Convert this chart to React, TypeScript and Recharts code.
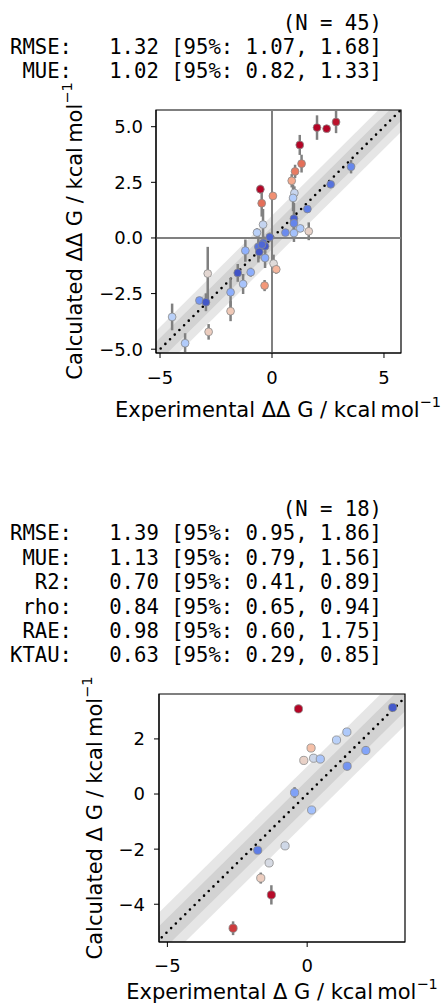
import React from "react";
import {
  ComposedChart,
  Scatter,
  Area,
  Line,
  XAxis,
  YAxis,
  ReferenceLine,
  ReferenceArea,
  ErrorBar,
  Label,
} from "recharts";

// --- ΔΔG (relative, per edge) ---
const ddgExp = [
  2.01, 2.44, 2.86, 1.24, 1.32, 1.03, 0.88, 1.0, 0.94, -0.52, -0.46, 0.04, 1.58,
  0.98, 0.98, -0.4, -0.67, 0.6, 0.98, 1.26, 1.64, -0.1, -0.61, -0.57, -0.39,
  -0.31, -0.31, -1.19, 0.07, 0.19, -0.33, -1.53, -0.95, -1.29, -2.87, -1.85,
  -1.85, -3.24, -2.95, -2.83, -4.46, -3.88, 3.53, 2.62, -0.45,
];
const ddgCalc = [
  4.96, 4.91, 5.21, 4.18, 3.34, 2.99, 2.57, 2.02, 1.8, 2.19, 1.56, 1.89, 1.3,
  0.87, 0.66, 0.6, 0.24, 0.24, 0.22, 0.43, 0.3, 0.04, -0.4, -0.63, -0.22, -0.37,
  -0.9, -0.57, -1.15, -1.41, -2.14, -1.57, -1.54, -2.07, -1.6, -2.44, -3.29,
  -2.81, -2.89, -4.22, -3.55, -4.73, 3.2, 2.41, -0.3,
];
const ddgErr = [
  0.55, 0.15, 0.5, 0.45, 0.4, 0.3, 0.3, 0.3, 0.6, 0.2, 0.6, 0.15, 0.15, 0.7, 0.3,
  0.7, 0.2, 0.15, 0.4, 0.15, 0.4, 0.2, 0.7, 0.3, 0.3, 0.3, 0.45, 0.5, 0.4, 0.2,
  0.25, 0.4, 0.2, 0.45, 1.2, 0.65, 0.45, 0.15, 0.4, 0.35, 0.6, 0.45, 0.3, 0.15,
  0.2,
];
const ddgTicks = [-5, 0, 5];
const ddgYTicks = [-5, -2.5, 0, 2.5, 5];
const ddgXDomain = [-5.18, 5.76];
const ddgYDomain = [-5.17, 5.75];
const ddgStatNames = ["RMSE", "MUE"];
const ddgStatValues = [1.32, 1.02];
const ddgStatLow = [1.07, 0.82];
const ddgStatHigh = [1.68, 1.33];

// --- ΔG (absolute, per ligand) ---
const dgExp = [
  3.06, -0.31, 1.42, 1.05, 0.14, -0.12, 0.23, 0.47, 2.1, 1.43, -0.45, 0.16, -0.79,
  -1.77, -1.36, -1.66, -1.28, -2.65,
];
const dgCalc = [
  3.14, 3.09, 2.25, 1.96, 1.67, 1.22, 1.3, 1.27, 1.58, 1.01, 0.05, -0.58, -1.88,
  -2.04, -2.5, -3.05, -3.66, -4.87,
];
const dgErr = [
  0.1, 0.15, 0.1, 0.1, 0.1, 0.1, 0.1, 0.1, 0.15, 0.15, 0.2, 0.1, 0.1, 0.1, 0.1,
  0.2, 0.35, 0.25,
];
const dgXTicks = [-5, 0];
const dgYTicks = [-4, -2, 0, 2];
const dgXDomain = [-5.3, 3.5];
const dgYDomain = [-5.37, 3.63];
const dgStatNames = ["RMSE", "MUE", "R2", "rho", "RAE", "KTAU"];
const dgStatValues = [1.39, 1.13, 0.7, 0.84, 0.98, 0.63];
const dgStatLow = [0.95, 0.79, 0.41, 0.65, 0.6, 0.29];
const dgStatHigh = [1.86, 1.56, 0.89, 0.94, 1.75, 0.85];

// matplotlib "coolwarm", sampled
const COOLWARM = [
  [59, 76, 192],
  [98, 130, 234],
  [141, 176, 254],
  [184, 208, 249],
  [221, 221, 221],
  [245, 196, 173],
  [244, 154, 123],
  [222, 96, 77],
  [180, 4, 38],
];
const VMAX = 2.4;

function coolwarm(t: number) {
  const c = Math.max(0, Math.min(1, t)) * (COOLWARM.length - 1);
  const i = Math.min(Math.floor(c), COOLWARM.length - 2);
  const f = c - i;
  const a = COOLWARM[i];
  const b = COOLWARM[i + 1];
  const m = (k: number) => Math.round(a[k] + (b[k] - a[k]) * f);
  return `rgb(${m(0)},${m(1)},${m(2)})`;
}

const minus = (s: string) => s.replace("-", "\u2212");

const toPoints = (xs: number[], ys: number[], es: number[]) =>
  xs.map((x, i) => ({ x, y: ys[i], err: es[i] }));

const statLines = (n: number, names: string[], v: number[], lo: number[], hi: number[]) => [
  `(N = ${n})`.padStart(30),
  ...names.map(
    (nm, i) =>
      `${nm.padStart(4)}:   ${v[i].toFixed(2)} [95%: ${lo[i].toFixed(2)}, ${hi[i].toFixed(2)}]`
  ),
];

const FONT = "'DejaVu Sans', sans-serif";
const tickStyle = { fontSize: 18, fill: "#000", fontFamily: FONT };

// axis title at a fixed spot of the chart's svg, with a "−1" superscript
function AxisTitle(props: any) {
  const { text, vertical, at } = props;
  const [x, y] = at;
  return (
    <text
      x={x}
      y={y}
      textAnchor="middle"
      dominantBaseline="central"
      fontFamily={FONT}
      fontSize={21}
      fill="#000"
      transform={vertical ? `rotate(-90 ${x} ${y})` : undefined}
    >
      {text}
      <tspan dy={-8} fontSize={14.5}>
        {"\u22121"}
      </tspan>
    </text>
  );
}

function Dot(props: any) {
  const { cx, cy, payload, r } = props;
  return (
    <circle
      cx={cx}
      cy={cy}
      r={r}
      fill={coolwarm(Math.abs(payload.y - payload.x) / VMAX)}
      stroke="#8a8a8a"
      strokeWidth={0.8}
    />
  );
}

type PlotProps = {
  width: number;
  height: number;
  margin: { top: number; right: number; bottom: number; left: number };
  yAxisWidth: number;
  xs: number[];
  ys: number[];
  es: number[];
  xDomain: number[];
  yDomain: number[];
  xTicks: number[];
  yTicks: number[];
  yDigits: number;
  xLabel: string;
  yLabel: string;
  xLabelAt: number[];
  yLabelAt: number[];
  yTickMargin: number;
  xTickMargin: number;
  crosshair: boolean;
  r: number;
};

function ParityPlot(p: PlotProps) {
  const points = toPoints(p.xs, p.ys, p.es);
  const lo = Math.min(p.xDomain[0], p.yDomain[0]);
  const hi = Math.max(p.xDomain[1], p.yDomain[1]);
  const identity = [
    { x: lo, y: lo },
    { x: hi, y: hi },
  ];
  const band = (w: number) => [
    { x: lo, band: [lo - w, lo + w] },
    { x: hi, band: [hi - w, hi + w] },
  ];
  return (
    <ComposedChart width={p.width} height={p.height} margin={p.margin}>
      <XAxis
        type="number"
        dataKey="x"
        domain={p.xDomain}
        allowDataOverflow
        ticks={p.xTicks}
        interval={0}
        tickFormatter={(v: number) => minus(String(v))}
        tick={tickStyle}
        tickSize={5}
        tickMargin={p.xTickMargin}
        stroke="#000"
        height={40}
      >
        <Label content={<AxisTitle text={p.xLabel} vertical={false} at={p.xLabelAt} />} />
      </XAxis>
      <YAxis
        type="number"
        dataKey="y"
        domain={p.yDomain}
        allowDataOverflow
        ticks={p.yTicks}
        interval={0}
        tickFormatter={(v: number) => minus(v.toFixed(p.yDigits))}
        tick={tickStyle}
        tickSize={5}
        tickMargin={p.yTickMargin}
        stroke="#000"
        width={p.yAxisWidth}
      >
        <Label content={<AxisTitle text={p.yLabel} vertical at={p.yLabelAt} />} />
      </YAxis>
      <Area
        data={band(1)}
        dataKey="band"
        type="linear"
        stroke="none"
        fill="#808080"
        fillOpacity={0.2}
        dot={false}
        activeDot={false}
        isAnimationActive={false}
      />
      <Area
        data={band(0.5)}
        dataKey="band"
        type="linear"
        stroke="none"
        fill="#808080"
        fillOpacity={0.2}
        dot={false}
        activeDot={false}
        isAnimationActive={false}
      />
      <Line
        data={identity}
        dataKey="y"
        type="linear"
        stroke="#000"
        strokeWidth={2.6}
        strokeDasharray="0 6.6"
        strokeLinecap="round"
        dot={false}
        activeDot={false}
        isAnimationActive={false}
      />
      {p.crosshair && <ReferenceLine x={0} stroke="#808080" strokeWidth={2} />}
      {p.crosshair && <ReferenceLine y={0} stroke="#808080" strokeWidth={2} />}
      <ReferenceArea
        x1={p.xDomain[0]}
        x2={p.xDomain[1]}
        y1={p.yDomain[0]}
        y2={p.yDomain[1]}
        fill="none"
        stroke="#000"
        strokeWidth={1.2}
        ifOverflow="visible"
      />
      <Scatter
        data={points}
        dataKey="y"
        shape={(s: any) => <Dot {...s} r={p.r} />}
        isAnimationActive={false}
      >
        <ErrorBar dataKey="err" direction="y" width={0} stroke="#808080" strokeWidth={2.5} />
      </Scatter>
    </ComposedChart>
  );
}

function Stats({ top, lines }: { top: number; lines: string[] }) {
  return (
    <pre
      style={{
        position: "absolute",
        left: 10,
        top,
        margin: 0,
        fontFamily: "'DejaVu Sans Mono', monospace",
        fontSize: 20.6,
        lineHeight: "24.4px",
        color: "#000",
      }}
    >
      {lines.join("\n")}
    </pre>
  );
}

export default function App() {
  return (
    <div
      style={{
        position: "absolute",
        left: 0,
        top: 0,
        width: 443,
        height: 1005,
        background: "#fff",
        overflow: "hidden",
      }}
    >
      <div style={{ position: "absolute", left: 0, top: 0 }}>
        <ParityPlot
          width={443}
          height={440}
          margin={{ top: 110, right: 42, bottom: 47, left: 0 }}
          yAxisWidth={156}
          xs={ddgExp}
          ys={ddgCalc}
          es={ddgErr}
          xDomain={ddgXDomain}
          yDomain={ddgYDomain}
          xTicks={ddgTicks}
          yTicks={ddgYTicks}
          yDigits={1}
          xLabel={"Experimental \u0394\u0394 G / kcal\u2009mol"}
          yLabel={"Calculated \u0394\u0394 G / kcal\u2009mol"}
          xLabelAt={[278, 410]}
          yLabelAt={[75, 231]}
          yTickMargin={8}
          xTickMargin={13}
          crosshair
          r={3.9}
        />
      </div>
      <div style={{ position: "absolute", left: 0, top: 480 }}>
        <ParityPlot
          width={443}
          height={525}
          margin={{ top: 214, right: 38, bottom: 23, left: 0 }}
          yAxisWidth={159}
          xs={dgExp}
          ys={dgCalc}
          es={dgErr}
          xDomain={dgXDomain}
          yDomain={dgYDomain}
          xTicks={dgXTicks}
          yTicks={dgYTicks}
          yDigits={0}
          xLabel={"Experimental \u0394 G / kcal\u2009mol"}
          yLabel={"Calculated \u0394 G / kcal\u2009mol"}
          xLabelAt={[282, 512]}
          yLabelAt={[95, 338]}
          yTickMargin={9}
          xTickMargin={12}
          crosshair={false}
          r={4.1}
        />
      </div>
      <Stats
        top={10.5}
        lines={statLines(45, ddgStatNames, ddgStatValues, ddgStatLow, ddgStatHigh)}
      />
      <Stats
        top={497}
        lines={statLines(18, dgStatNames, dgStatValues, dgStatLow, dgStatHigh)}
      />
    </div>
  );
}
